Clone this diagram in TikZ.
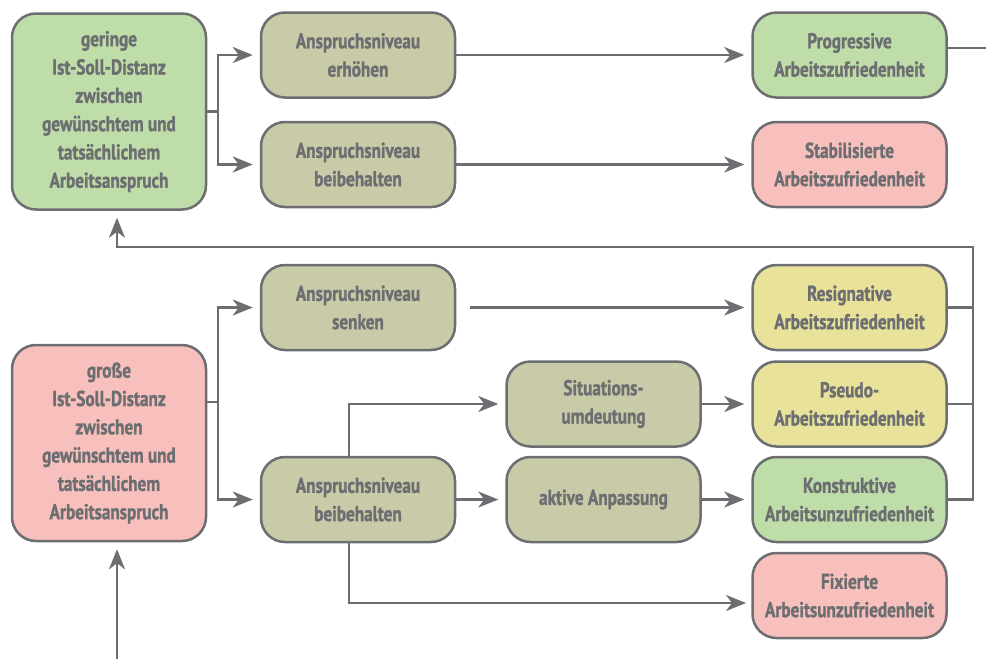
\documentclass[tikz,border=0pt]{standalone}
\usepackage{fontspec}
\newfontfamily\boxfont[FakeStretch=0.8,FakeBold=1.2]{PT Sans Bold}
\usetikzlibrary{arrows.meta}
\definecolor{cgray}{HTML}{6D6E71}
\definecolor{cgreen}{HTML}{BEDDA8}
\definecolor{cpink}{HTML}{F8C0BC}
\definecolor{colive}{HTML}{C9CAA8}
\definecolor{cyellow}{HTML}{E8E29A}
\tikzset{
  box/.style={draw=cgray, line width=2.5pt, rounded corners=24pt, minimum width=194pt, minimum height=85pt,
    align=center, text=cgray, inner sep=2pt, font=\boxfont\fontsize{21.5}{28.3}\selectfont},
  bigbox/.style={box, minimum height=196pt},
  conn/.style={draw=cgray, line width=2.5pt},
  arr/.style={conn, -{Stealth[length=20pt,width=16pt,inset=6pt]}, shorten >=7pt}
}
\begin{document}
\begin{tikzpicture}[x=1pt,y=-1pt]
\useasboundingbox (0,0) rectangle (986,659);
\node[bigbox, fill=cgreen] (G1) at (109,111.5) {geringe\\Ist-Soll-Distanz\\zwischen\\gewünschtem und\\tatsächlichem\\Arbeitsanspruch};
\node[bigbox, fill=cpink] (Gr) at (109,443) {große\\Ist-Soll-Distanz\\zwischen\\gewünschtem und\\tatsächlichem\\Arbeitsanspruch};
\node[box, fill=colive] (A1) at (358,55) {Anspruchsniveau\\erhöhen};
\node[box, fill=colive] (A2) at (358,164.5) {Anspruchsniveau\\beibehalten};
\node[box, fill=colive] (A3) at (358,307.5) {Anspruchsniveau\\senken};
\node[box, fill=colive] (A4) at (358,499.5) {Anspruchsniveau\\beibehalten};
\node[box, fill=colive] (Sit) at (603.5,404) {Situations-\\umdeutung};
\node[box, fill=colive] (Akt) at (603.5,499.5) {aktive Anpassung};
\node[box, fill=cgreen] (P) at (849.5,55) {Progressive\\Arbeitszufriedenheit};
\node[box, fill=cpink] (S) at (849.5,164.5) {Stabilisierte\\Arbeitszufriedenheit};
\node[box, fill=cyellow] (R) at (849.5,307.5) {Resignative\\Arbeitszufriedenheit};
\node[box, fill=cyellow] (Ps) at (849.5,404) {Pseudo-\\Arbeitszufriedenheit};
\node[box, fill=cgreen] (K) at (849.5,499.5) {Konstruktive\\Arbeitsunzufriedenheit};
\node[box, fill=cpink] (F) at (849.5,595.5) {Fixierte\\Arbeitsunzufriedenheit};
% coordinates
\coordinate (f1) at (218,111.5);
\coordinate (f2) at (218,402);
\coordinate (pe) at (986,48);
\coordinate (fbR) at (973,247);
\coordinate (fb) at (117,247);
\coordinate (bot) at (117,659);
\coordinate (ax) at (349,0);
\coordinate (fin) at (753,603);
% top fork
\draw[conn] (G1.east |- f1) -- (f1);
\draw[arr] (f1) |- (A1.west);
\draw[arr] (f1) |- (A2.west);
\draw[arr] (A1.east) -- (P.west);
\draw[arr] (A2.east) -- (S.west);
\draw[conn] (P.east |- pe) -- (pe);
% feedback
\draw[arr] (K.east) -| (fbR) -- (fb) -- (fb |- G1.south);
\draw[conn] (R.east) -- (R.east -| fbR);
\draw[conn] (Ps.east) -- (Ps.east -| fbR);
% lower fork
\draw[conn] (Gr.east |- f2) -- (f2);
\draw[arr] (f2) |- (A3.west);
\draw[arr] (f2) |- (A4.west);
\draw[arr] ([xshift=14pt]A3.east) -- (R.west);
\draw[arr] (A4.north -| ax) |- (Sit.west);
\draw[arr] (A4.east) -- (Akt.west);
\draw[arr] (Sit.east) -- (Sit.east -| Ps.west);
\draw[arr] (Akt.east) -- (K.west);
\draw[arr] (A4.south -| ax) |- (fin);
\draw[arr] (bot) -- (bot |- Gr.south);
\end{tikzpicture}
\end{document}
